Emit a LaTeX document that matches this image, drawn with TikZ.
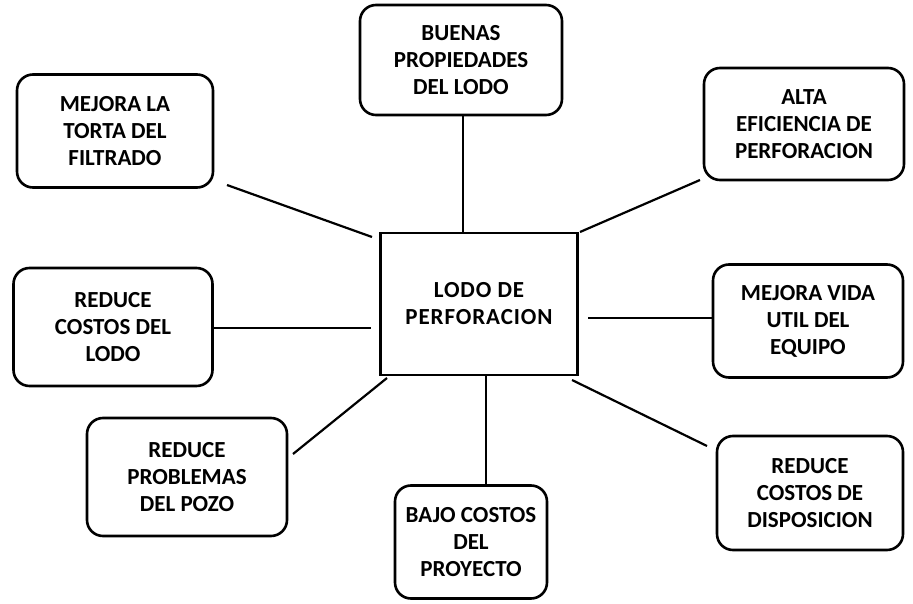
\documentclass[tikz,border=0pt]{standalone}
\usepackage{fontspec}
\setmainfont{Carlito}
\begin{document}
\begin{tikzpicture}[x=1pt,y=-1pt,
  every node/.style={font=\fontsize{23}{27}\selectfont\bfseries, align=center, inner sep=0pt},
  benefit/.style={draw, line width=2.6pt, rounded corners=16pt},
  hub/.style={draw, line width=2.6pt},
  link/.style={line width=2.2pt}]
\useasboundingbox (0,0) rectangle (913,604);

% central box
\node[hub, minimum width=197pt, minimum height=142pt] (c) at (479,304)
  {\addfontfeature{LetterSpace=4}LODO DE\\\addfontfeature{LetterSpace=4}PERFORACION};

% surrounding benefit boxes
\node[benefit, minimum width=202pt, minimum height=110pt] (t)  at (461,60)  {BUENAS\\PROPIEDADES\\DEL LODO};
\node[benefit, minimum width=196pt, minimum height=113pt] (ul) at (115,131) {MEJORA LA\\TORTA DEL\\FILTRADO};
\node[benefit, minimum width=200pt, minimum height=112pt] (ur) at (804,124) {ALTA\\EFICIENCIA DE\\PERFORACION};
\node[benefit, minimum width=199pt, minimum height=118pt] (l)  at (113,327) {REDUCE\\COSTOS DEL\\LODO};
\node[benefit, minimum width=190pt, minimum height=113pt] (r)  at (808,321) {MEJORA VIDA\\UTIL DEL\\EQUIPO};
\node[benefit, minimum width=200pt, minimum height=118pt] (ll) at (187,477) {REDUCE\\PROBLEMAS\\DEL POZO};
\node[benefit, minimum width=152pt, minimum height=113pt] (b)  at (471,542) {BAJO COSTOS\\DEL\\PROYECTO};
\node[benefit, minimum width=186pt, minimum height=114pt] (lr) at (810,493) {REDUCE\\COSTOS DE\\DISPOSICION};

% free ends of the spokes that stop short of the boxes
\coordinate (ulA) at (227,185);  \coordinate (ulB) at (372,237);
\coordinate (urA) at (700,180);  \coordinate (urB) at (580,232);
\coordinate (lA)  at (212,328);  \coordinate (lB)  at (371,328);
\coordinate (rA)  at (588,318);  \coordinate (rB)  at (713,318);
\coordinate (llA) at (387,378);  \coordinate (llB) at (293,454);
\coordinate (lrA) at (572,380);  \coordinate (lrB) at (707,446);

% spokes
\draw[link] (t.south -| 463,0) -- (c.north -| 463,0);
\draw[link] (c.south -| 486,0) -- (b.north -| 486,0);
\draw[link] (ulA) -- (ulB);
\draw[link] (urA) -- (urB);
\draw[link] (lA) -- (lB);
\draw[link] (rA) -- (rB);
\draw[link] (llA) -- (llB);
\draw[link] (lrA) -- (lrB);
\end{tikzpicture}
\end{document}
